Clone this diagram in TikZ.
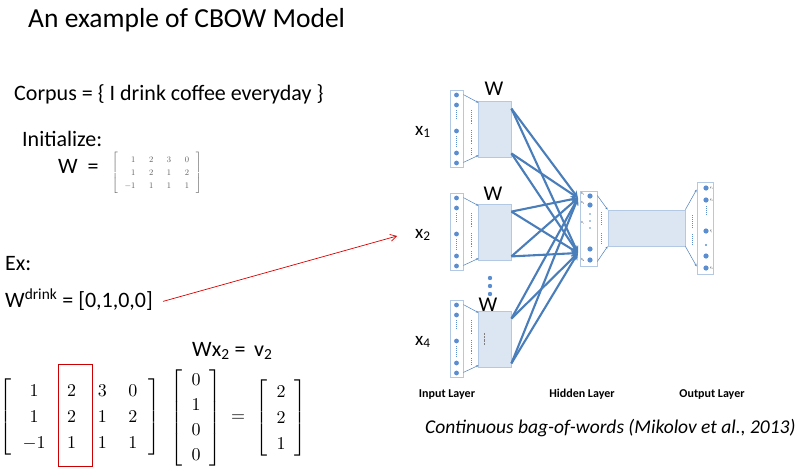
\documentclass[tikz,border=0pt]{standalone}
\usepackage{fontspec}
\setmainfont{Carlito}
\usepackage{amsmath}
\usetikzlibrary{arrows.meta}
\definecolor{netblue}{HTML}{4A7EBB}
\definecolor{dotblue}{HTML}{5B8ED0}
\definecolor{boxline}{HTML}{B3C8E2}
\definecolor{boxfill}{HTML}{DCE6F2}
\tikzset{
  txt/.style={anchor=base west, inner sep=0pt, font=\fontsize{22}{26}\selectfont},
  inbox/.style={draw=boxline, fill=white, line width=0.8pt, inner sep=0pt},
  wbox/.style={draw=boxline, fill=boxfill, line width=0.8pt, inner sep=0pt},
  thin/.style={draw=netblue, line width=0.5pt, -{Stealth[length=2.5pt,width=2pt]}},
  bigarrow/.style={draw=netblue, line width=2.1pt, -{Stealth[length=7pt,width=6.5pt]}},
  layer/.style={anchor=base, inner sep=0pt, font=\fontsize{12}{14}\selectfont\bfseries},
  unit/.style={fill=dotblue, draw=none},
  tinylbl/.style={inner sep=0pt, font=\fontsize{3}{3}\selectfont}
}
\begin{document}
\begin{tikzpicture}[x=1pt,y=-1pt]
\useasboundingbox (0,0) rectangle (804,472);

% title and left text
\node[txt, font=\fontsize{27.5}{32}\selectfont] (title) at (28,27) {An example of CBOW Model};
\node[txt] (corpus) at (14,100) {Corpus = \{ I drink coffee everyday \}};
\node[txt] (init) at (22,146) {Initialize:};
\node[txt] (weq) at (58,173) {W\ \ =};
\node[anchor=west, inner sep=0pt, text=black!65, scale=0.85] (wsmall) at (112,173)
  {$\renewcommand\arraystretch{1.3}\setlength\arraycolsep{8pt}\left[\begin{array}{rrrr}1&2&3&0\\1&2&1&2\\-1&1&1&1\end{array}\right]$};
\node[txt] (ex) at (5,270) {Ex:};
\node[txt] (wdrink) at (5,307) {W\textsuperscript{drink} = [0,1,0,0]};

% worked product
\node[txt] (wx) at (192,356) {Wx\textsubscript{2} =\, v\textsubscript{2}};
\node[inner sep=0pt, scale=1.8] (bigw) at (80,417)
  {$\renewcommand\arraystretch{1.2}\setlength\arraycolsep{6pt}\left[\begin{array}{cccc}1&2&3&0\\1&2&1&2\\-1&1&1&1\end{array}\right]$};
\node[inner sep=0pt, scale=1.8] (vecx) at (196,418)
  {$\renewcommand\arraystretch{1.15}\left[\begin{array}{c}0\\1\\0\\0\end{array}\right]$};
\node[inner sep=0pt, scale=1.8] (eqs) at (238,418) {$=$};
\node[inner sep=0pt, scale=1.8] (vecv) at (281,418)
  {$\renewcommand\arraystretch{1.2}\left[\begin{array}{c}2\\2\\1\end{array}\right]$};
\draw[red!80!black, line width=0.7pt] (58,364) rectangle (92,466);

% input columns and W boxes
\foreach \i/\t/\lab in {1/90/x\textsubscript{1}, 2/193/x\textsubscript{2}, 3/300/x\textsubscript{4}}{
  \node[inbox, minimum width=13pt, minimum height=77pt] (in\i) at (456.5,\t+38.5) {};
  \node[wbox, minimum width=33pt, minimum height=56pt] (w\i) at (494.5,\t+39) {};
  \foreach \d in {5,15,41,63,73}
    \fill[unit] (456.5,\t+\d) circle (2.4);
  \draw[dotblue, densely dotted, line width=1pt] (456.5,\t+20) -- (456.5,\t+30);
  \draw[dotblue, densely dotted, line width=1pt] (456.5,\t+46) -- (456.5,\t+57);
  \draw[dotblue, densely dotted, line width=0.9pt] (471,\t+20) -- (471,\t+34);
  \draw[dotblue, densely dotted, line width=0.9pt] (471,\t+40) -- (471,\t+54);
  \draw[dotblue, densely dotted, line width=0.9pt] (471,\t+58) -- (471,\t+64);
  \draw[thin] (in\i.north east) ++(0,5) -- ++(15,8);
  \draw[thin] (in\i.south east) ++(0,-5) -- ++(15,-7);
  \node[txt, font=\fontsize{19}{21}\selectfont] (x\i) at (415,\t+45) {\lab};
  \path (w\i.north east) ++(0,8) coordinate (w\i a);
  \path (w\i.south east) ++(0,-4) coordinate (w\i b);
}
\draw[black!50, densely dotted] (484,333) -- (484,345);
\node[anchor=base, inner sep=0pt, font=\fontsize{21}{23}\selectfont] (wl1) at (494,95) {W};
\node[anchor=base, inner sep=0pt, font=\fontsize{21}{23}\selectfont] (wl2) at (493,200) {W};
\node[anchor=base, inner sep=0pt, font=\fontsize{21}{23}\selectfont] (wl3) at (488,311) {W};
\foreach \y in {278,286,294}
  \fill[unit] (490,\y) circle (2.2);

% hidden layer, projection, output layer
\node[inbox, minimum width=17pt, minimum height=75pt] (hid) at (588.5,228.5) {};
\node[wbox, minimum width=77pt, minimum height=36pt] (proj) at (646.5,228) {};
\node[inbox, minimum width=16pt, minimum height=92pt] (outl) at (705,228) {};
\foreach \y in {196,205,249,260}
  \fill[unit] (590,\y) circle (2.6);
\foreach \y in {214,221,228}
  \fill[unit] (590,\y) circle (0.9);
\draw[dotblue, densely dotted, line width=1pt] (601,212) -- (601,226);
\draw[dotblue, densely dotted, line width=1pt] (601,233) -- (601,244);
\node[tinylbl] (h1) at (583,194) {h\textsubscript{1}};
\node[tinylbl] (h2) at (583,203) {h\textsubscript{2}};
\node[tinylbl] (hi) at (583,223) {h\textsubscript{i}};
\node[tinylbl] (hn) at (583,260) {h\textsubscript{N}};
\foreach \y in {188,200,231,256,268}
  \fill[unit] (706,\y) circle (2.6);
\fill[unit] (706,245) circle (1.1);
\draw[dotblue, densely dotted, line width=1pt] (706,206) -- (706,216);
\draw[dotblue, densely dotted, line width=1pt] (692,215) -- (692,228);
\draw[dotblue, densely dotted, line width=1pt] (692,234) -- (692,246);
\node[tinylbl, anchor=west] (y1) at (710,188) {y\textsubscript{1}};
\node[tinylbl, anchor=west] (y2) at (710,200) {y\textsubscript{2}};
\node[tinylbl, anchor=west] (yj) at (710,231) {y\textsubscript{j}};
\node[tinylbl, anchor=west] (yv) at (710,268) {y\textsubscript{V}};
\draw[thin] (hid.north east) ++(0,5) -- (proj.north west);
\draw[thin] (hid.south east) ++(0,-5) -- (proj.south west);
\draw[thin] (proj.north east) -- ([yshift=-8pt]outl.north west);
\draw[thin] (proj.south east) -- ([yshift=8pt]outl.south west);

% weight arrows into hidden layer
\coordinate (t1) at (578,198);
\coordinate (t2) at (578,253);
\foreach \s in {w1a,w1b,w2a,w2b,w3a,w3b}
  \foreach \e in {t1,t2}
    \draw[bigarrow] (\s) -- (\e);

% layer names and caption
\node[layer] (linput) at (447,397) {Input Layer};
\node[layer] (lhidden) at (582,397) {Hidden Layer};
\node[layer] (loutput) at (712,397) {Output Layer};
\node[txt, font=\fontsize{19.5}{22}\selectfont\itshape] (caption) at (425,433) {Continuous bag-of-words (Mikolov et al., 2013)};

% red pointer
\coordinate (ptr) at (397,236);
\draw[red!85!black, line width=0.7pt, -{Straight Barb[length=6pt,width=7pt]}] ([xshift=10pt,yshift=-2pt]wdrink.east) -- (ptr);
\end{tikzpicture}
\end{document}
